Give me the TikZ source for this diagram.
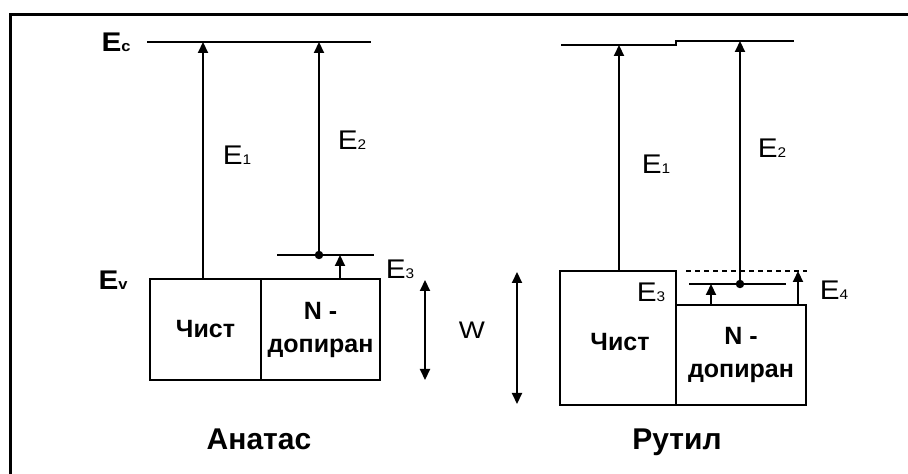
\documentclass[tikz,border=0pt]{standalone}
\usepackage{fontspec}
\setmainfont{Liberation Sans}
\usetikzlibrary{arrows.meta}
\newcommand\myboxfont{\fontsize{25bp}{33bp}\selectfont\bfseries}
\newcommand\myelabfont{\fontsize{27bp}{28bp}\selectfont}
\newcommand\mysub[1]{{\fontsize{14bp}{14bp}\selectfont #1}}
\newcommand\mybsub[1]{{\fontsize{15bp}{15bp}\selectfont\bfseries #1}}
\begin{document}
\begin{tikzpicture}[x=1bp,y=-1bp,
  lvl/.style={line width=2bp},
  arr/.style={-{Triangle[width=10bp,length=11bp]}, line width=2.1bp},
  dbl/.style={{Triangle[width=10bp,length=11bp]}-{Triangle[width=10bp,length=11bp]}, line width=2.1bp},
  boxn/.style={draw, line width=2.1bp, inner sep=0pt, align=center, font=\myboxfont},
  elab/.style={inner sep=0pt, font=\myelabfont, xscale=1.1},
  title/.style={inner sep=0pt, anchor=base, font=\fontsize{30bp}{31bp}\selectfont\bfseries},
  dotn/.style={circle, fill, inner sep=0pt, minimum size=8.5bp},
]
\useasboundingbox (0,0) rectangle (908,474);
% frame
\draw[line width=3bp] (10,474) -- (10,15) -- (910,15);

% ---------- Anatase ----------
\node[boxn, minimum width=111bp, minimum height=101bp] (pureA) at (205.5,329.5) {Чист};
\node[boxn, minimum width=119bp, minimum height=101bp] (dopA) at (320.5,329.5) {N -\\допиран};

\coordinate (EcAL) at (147,42);
\coordinate (EcAR) at (371,42);
\draw[lvl] (EcAL) -- (EcAR);
\coordinate (EcA1) at (203,42);
\coordinate (EcA2) at (319,42);

\coordinate (E3AL) at (277,255);
\coordinate (E3AR) at (374,255);
\draw[lvl] (E3AL) -- (E3AR);
\node[dotn] (dotA) at (319,255) {};
\coordinate (E3Atip) at (340,255);

\draw[arr] (pureA.north -| EcA1) -- (EcA1);
\draw[arr] (dotA.center) -- (EcA2);
\draw[arr] (dopA.north -| E3Atip) -- (E3Atip);

\coordinate (WAt) at (425,280);
\coordinate (WAb) at (425,380);
\draw[dbl] (WAt) -- (WAb);

\node[elab] (lEc) at (116,42) {\textbf{E}\mybsub{c}};
\node[elab] (lEv) at (113,280) {\textbf{E}\mybsub{v}};
\node[elab] (lE1A) at (237,155) {E\mysub{1}};
\node[elab] (lE2A) at (352,140) {E\mysub{2}};
\node[elab] (lE3A) at (400,269) {E\mysub{3}};
\node[title] (tA) at (259,449) {Анатас};

\node[inner sep=0pt, font=\fontsize{24bp}{26bp}\selectfont, xscale=1.15] (lW) at (472,330) {W};

% ---------- Rutile ----------
\node[boxn, minimum width=116bp, minimum height=134bp] (pureR) at (618,338) {};
\node[font=\myboxfont, inner sep=0pt] (pureRt) at (620,342) {Чист};
\node[boxn, minimum width=130bp, minimum height=100bp] (dopR) at (741,355) {N -\\допиран};

\coordinate (EcRa) at (561,45);
\coordinate (EcRb) at (676,45);
\coordinate (EcRc) at (676,41);
\coordinate (EcRd) at (794,41);
\draw[lvl] (EcRa) -- (EcRb) -- (EcRc) -- (EcRd);
\coordinate (EcR1) at (619,45);
\coordinate (EcR2) at (740,41);

\coordinate (dashL) at (686,271);
\coordinate (dashR) at (807,271);
\draw[line width=1.6bp, dash pattern=on 5bp off 4bp] (dashL) -- (dashR);

\coordinate (E3RL) at (689,284);
\coordinate (E3RR) at (786,284);
\draw[lvl] (E3RL) -- (E3RR);
\node[dotn] (dotR) at (740,284) {};
\coordinate (E3Rtip) at (711,284);
\coordinate (E4Rtip) at (798,271);

\draw[arr] (pureR.north -| EcR1) -- (EcR1);
\draw[arr] (dotR.center) -- (EcR2);
\draw[arr] (dopR.north -| E3Rtip) -- (E3Rtip);
\draw[arr] (dopR.north -| E4Rtip) -- (E4Rtip);

\coordinate (WRt) at (517,272);
\coordinate (WRb) at (517,404);
\draw[dbl] (WRt) -- (WRb);

\node[elab] (lE1R) at (656,164) {E\mysub{1}};
\node[elab] (lE2R) at (772,148) {E\mysub{2}};
\node[elab] (lE3R) at (651,292) {E\mysub{3}};
\node[elab] (lE4R) at (834,290) {E\mysub{4}};
\node[title] (tR) at (677,449) {Рутил};
\end{tikzpicture}
\end{document}
